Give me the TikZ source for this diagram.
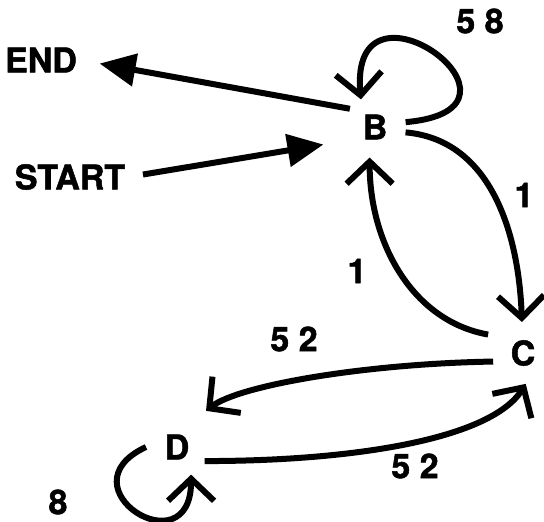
\documentclass[tikz,border=0pt]{standalone}
\usepackage{fontspec}
\setmainfont{TeX Gyre Heros}[BoldFeatures={FakeBold=1.5}]
\usetikzlibrary{positioning,arrows.meta}

\begin{document}
\begin{tikzpicture}[x=1pt,y=1pt,line width=6pt,
  state/.style={circle, minimum size=56pt, inner sep=0pt},
  txt/.style={inner sep=0pt},
  every node/.style={font=\fontsize{34}{34}\selectfont\bfseries},
  big/.style={-{Triangle[length=36pt,width=32pt]}},
  vee/.style={-{Straight Barb[length=22pt,width=46pt,line width=6pt]}}]
\useasboundingbox (0,0) rectangle (544,522);
\node[state] (B) at (375,395) {B};
\node[state, on grid, below right=226pt and 148pt of B] (C) {C};
\node[state, on grid, below left=94pt and 346pt of C] (D) {D};
\node[txt] (end) at (41,462) {END};
\node[txt] (start) at (70,345) {START};
\node[txt] (l58) at (480,501) {5 8};
\node[txt] (lbc) at (524,327) {1};
\node[txt] (lcb) at (357,251) {1};
\node[txt] (lcd) at (294,183) {5 2};
\node[txt] (ldc) at (415,56) {5 2};
\node[txt] (ldd) at (58,20) {8};
\draw[big, shorten >=20pt] (B.144) -- (end.east);
\draw[big, shorten <=15pt, shorten >=24pt] (start.east) -- (B.206);
\draw[vee] (B.9) to[out=5,in=95,out distance=150pt,in distance=140pt] (B.117);
\draw[vee] (B.-10) to[out=-5,in=92] (C.92);
\draw[vee, shorten <=9pt] (C.147) to[out=170,in=-90] (B.-100);
\draw[vee, shorten >=16pt] (C.196) to[out=181,in=38,out distance=130pt,in distance=57pt] (D.58);
\draw[vee] (D.-27) to[out=0,in=238,out distance=150pt,in distance=65pt] (C.-85);
\draw[vee] (D.180) to[out=205,in=-90,distance=95pt] (D.-63);
\end{tikzpicture}
\end{document}
